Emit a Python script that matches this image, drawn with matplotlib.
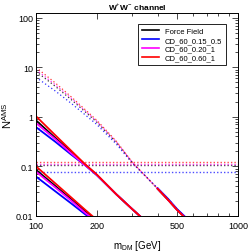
import matplotlib
matplotlib.use("Agg")
import matplotlib.pyplot as plt
from matplotlib.ticker import FixedLocator, NullFormatter, LogLocator

plt.rcParams['font.family'] = ['Liberation Sans', 'DejaVu Sans']
plt.rcParams['mathtext.fontset'] = 'custom'
plt.rcParams['mathtext.rm'] = 'Liberation Sans'

labels = ["Force Field", "CD_60_0.15_0.5", "CD_60_0.20_1", "CD_60_0.60_1"]
colors = ["black", "blue", "magenta", "red"]

# Upper group (dotted, steep)
mC = [100, 125, 150, 175, 200, 250, 300, 350, 400, 450, 500, 550]
nC = {
    "Force Field":    [8.3, 4.1, 2.2, 1.27, 0.78, 0.30, 0.118, 0.062, 0.035, 0.021, 0.013, 0.009],
    "CD_60_0.15_0.5": [6.3, 3.3, 1.85, 1.10, 0.70, 0.28, 0.115, 0.062, 0.036, 0.022, 0.0135, 0.0093],
    "CD_60_0.20_1":   [9.0, 4.4, 2.35, 1.33, 0.81, 0.31, 0.120, 0.062, 0.035, 0.021, 0.013, 0.009],
    "CD_60_0.60_1":   [10.0, 4.8, 2.5, 1.40, 0.85, 0.32, 0.120, 0.062, 0.035, 0.021, 0.013, 0.0088],
}
mC_solid_start = 400

# Middle group (solid)
mA = [100, 125, 150, 175, 200, 250, 300, 340]
nA = {
    "Force Field":    [0.85, 0.37, 0.19, 0.108, 0.067, 0.027, 0.0135, 0.0085],
    "CD_60_0.15_0.5": [0.62, 0.31, 0.17, 0.105, 0.066, 0.027, 0.0135, 0.0085],
    "CD_60_0.20_1":   [0.75, 0.35, 0.18, 0.106, 0.067, 0.027, 0.0135, 0.0085],
    "CD_60_0.60_1":   [1.03, 0.42, 0.203, 0.110, 0.068, 0.027, 0.0135, 0.0085],
}

# Lower group (solid)
mB = [100, 125, 150, 175, 195]
nB = {
    "Force Field":    [0.085, 0.0395, 0.0211, 0.0122, 0.0085],
    "CD_60_0.15_0.5": [0.062, 0.0309, 0.0175, 0.0107, 0.0078],
    "CD_60_0.20_1":   [0.078, 0.0369, 0.0199, 0.0115, 0.0082],
    "CD_60_0.60_1":   [0.100, 0.0446, 0.0231, 0.0132, 0.0090],
}

# Horizontal limits
limits = {"Force Field": 0.105, "CD_60_0.15_0.5": 0.077, "CD_60_0.20_1": 0.11, "CD_60_0.60_1": 0.12}

fig = plt.figure(figsize=(2.53, 2.53), dpi=100)
ax = fig.add_axes([0.142, 0.1435, 0.799, 0.8015])
ax.set_xscale('log')
ax.set_yscale('log')

for lab, col in zip(labels, colors):
    ax.plot(mA, nA[lab], color=col, lw=1.3, solid_capstyle='butt')
    ax.plot(mB, nB[lab], color=col, lw=1.3, solid_capstyle='butt')
    ax.plot(mC, nC[lab], color=col, lw=0.9, ls=(0, (1, 2)), alpha=0.8)
    ms = [m for m in mC if m >= mC_solid_start]
    vs = [v for m, v in zip(mC, nC[lab]) if m >= mC_solid_start]
    ax.plot(ms, vs, color=col, lw=1.3)
    ax.axhline(limits[lab], color=col, lw=1.0, ls=(0, (1, 1.5)), alpha=0.7)

for lab, col in zip(labels, colors):
    ax.plot([], [], color=col, lw=1.2, label=lab)

ax.set_xlim(100, 1000)
ax.set_ylim(0.01, 126)
ax.set_xticks([100, 200, 500, 1000])
ax.set_xticklabels(["100", "200", "500", "1000"])
ax.xaxis.set_minor_locator(FixedLocator([300, 400, 600, 700, 800, 900]))
ax.xaxis.set_minor_formatter(NullFormatter())
ax.set_yticks([0.01, 0.1, 1, 10, 100])
ax.set_yticklabels(["0.01", "0.1", "1", "10", "100"])
ax.yaxis.set_minor_locator(LogLocator(base=10, subs=range(2, 10)))
ax.yaxis.set_minor_formatter(NullFormatter())
ax.tick_params(which='both', direction='in', top=True, right=True, labelsize=6.5, width=0.5)
ax.tick_params(axis='x', pad=3.5)
ax.tick_params(axis='y', pad=2)
ax.tick_params(which='major', length=4)
ax.tick_params(which='minor', length=2)
for s in ax.spines.values():
    s.set_linewidth(0.7)

ax.set_xlabel(r"m$_{\rm DM}$ [GeV]", fontsize=7, labelpad=6)
ax.set_ylabel(r"N$^{\rm AMS}$", fontsize=8, labelpad=1)
ax.set_title(r"W$^{+}$W$^{-}$ channel", fontsize=6, fontweight='bold', pad=3)

leg = ax.legend(loc='upper right', fontsize=5.5, frameon=True, fancybox=False,
                edgecolor='black', framealpha=1, handlelength=2.2, borderpad=0.5,
                labelspacing=0.2, bbox_to_anchor=(0.96, 0.965))
leg.get_frame().set_linewidth(0.6)

fig.savefig("out.png", dpi=100)
